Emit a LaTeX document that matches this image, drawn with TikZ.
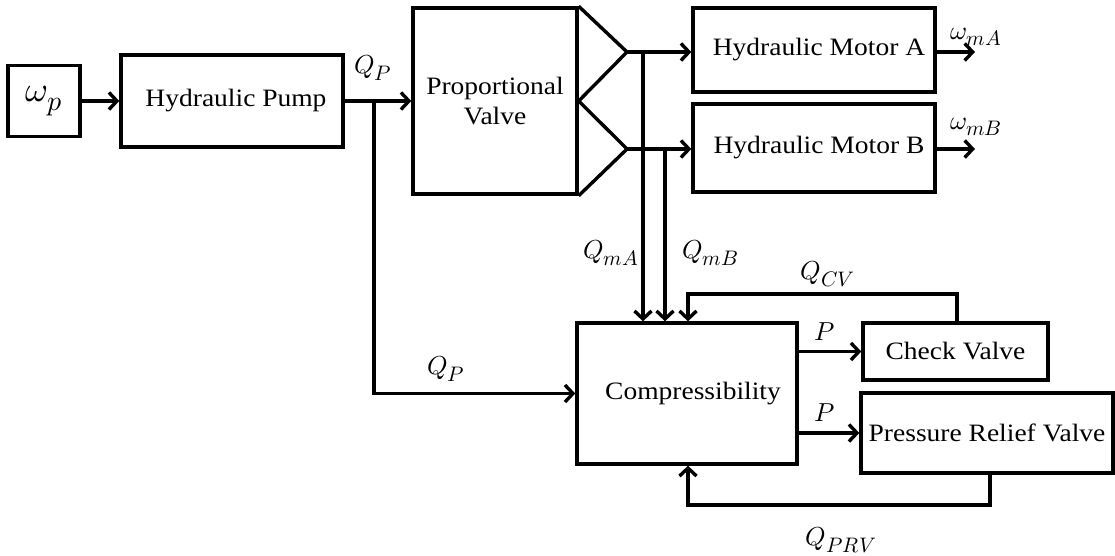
\documentclass[tikz,border=0pt]{standalone}
\usepackage{fontspec}
\usepackage{unicode-math}
\setmainfont{Liberation Serif}[FakeStretch=1.1]
\setmathfont{Latin Modern Math}
\DeclareMathSizes{26}{26}{21}{17}
\DeclareMathSizes{35}{35}{28}{22}
\usetikzlibrary{arrows.meta}
\begin{document}
\begin{tikzpicture}[x=1pt,y=-1pt,line width=3.4pt,
  box/.style={draw,line width=3.4pt,inner sep=0pt,align=center,font=\fontsize{25}{30}\selectfont},
  lbl/.style={inner sep=0pt,font=\fontsize{26}{30}\selectfont},
  flow/.style={-{Straight Barb[length=8pt,width=17pt]},line width=3.4pt}]
\useasboundingbox (0,0) rectangle (1115,556);
% blocks
\node[box,minimum width=72pt,minimum height=71pt,font=\fontsize{35}{40}\selectfont] (wp) at (44,101) {$\omega_p$};
\node[box,minimum width=222pt,minimum height=92pt] (pump) at (232,101) {\hspace*{8pt}Hydraulic Pump};
\node[box,minimum width=164pt,minimum height=186pt] (pv) at (495,101) {Proportional\\Valve};
\node[box,minimum width=242pt,minimum height=84pt] (mA) at (814,50) {\hspace*{10pt}Hydraulic Motor A};
\node[box,minimum width=242pt,minimum height=88pt] (mB) at (814,148) {\hspace*{10pt}Hydraulic Motor B};
\node[box,minimum width=220pt,minimum height=141pt] (comp) at (687,393.5) {\hspace*{12pt}Compressibility};
\node[box,minimum width=185pt,minimum height=57pt] (cv) at (955.5,351.5) {Check Valve};
\node[box,minimum width=252pt,minimum height=80pt] (prv) at (987,433) {Pressure Relief Valve};
% valve splitter
\coordinate (tA) at (627,52);
\coordinate (tB) at (627,149);
\draw[line join=miter] (pv.north east) -- (tA) -- (pv.east) -- (tB) -- (pv.south east);
% connectors
\draw[flow] (wp) -- (pump);
\draw[flow] (pump.east) -- (pv.west);
\coordinate (br) at (374,101);
\draw[flow] (br) |- (comp.west);
\draw[flow] (tA) -- (tA -| mA.west);
\draw[flow] (tB) -- (tB -| mB.west);
\coordinate (oA) at (975,52);
\coordinate (oB) at (975,149);
\draw[flow] (mA.east |- oA) -- (oA);
\draw[flow] (mB.east |- oB) -- (oB);
\coordinate (jA) at (643,52);
\coordinate (jB) at (665,149);
\draw[flow] (jA) -- (jA |- comp.north);
\draw[flow] (jB) -- (jB |- comp.north);
\coordinate (cvT) at (688,294);
\draw[flow] ([xshift=1.5pt]cv.north) |- (cvT) -- (cvT |- comp.north);
\draw[flow] (comp.east |- cv.west) -- (cv.west);
\draw[flow] (comp.east |- prv.west) -- (prv.west);
\coordinate (fb) at (688,505);
\draw[flow] ([xshift=3pt]prv.south) |- (fb) -- (fb |- comp.south);
% labels
\node[lbl] (lQP1) at (373,68) {$Q_P$};
\node[lbl] (lQP2) at (446,369) {$Q_P$};
\node[lbl] (lQmA) at (611,253) {$Q_{mA}$};
\node[lbl] (lQmB) at (710,253) {$Q_{mB}$};
\node[lbl] (lQCV) at (828,274) {$Q_{CV}$};
\node[lbl] (lP1) at (825,332) {$P$};
\node[lbl] (lP2) at (825,413) {$P$};
\node[lbl] (lQPRV) at (841,540) {$Q_{PRV}$};
\node[lbl] (lwA) at (976,37) {$\omega_{mA}$};
\node[lbl] (lwB) at (976,127) {$\omega_{mB}$};
\end{tikzpicture}
\end{document}
